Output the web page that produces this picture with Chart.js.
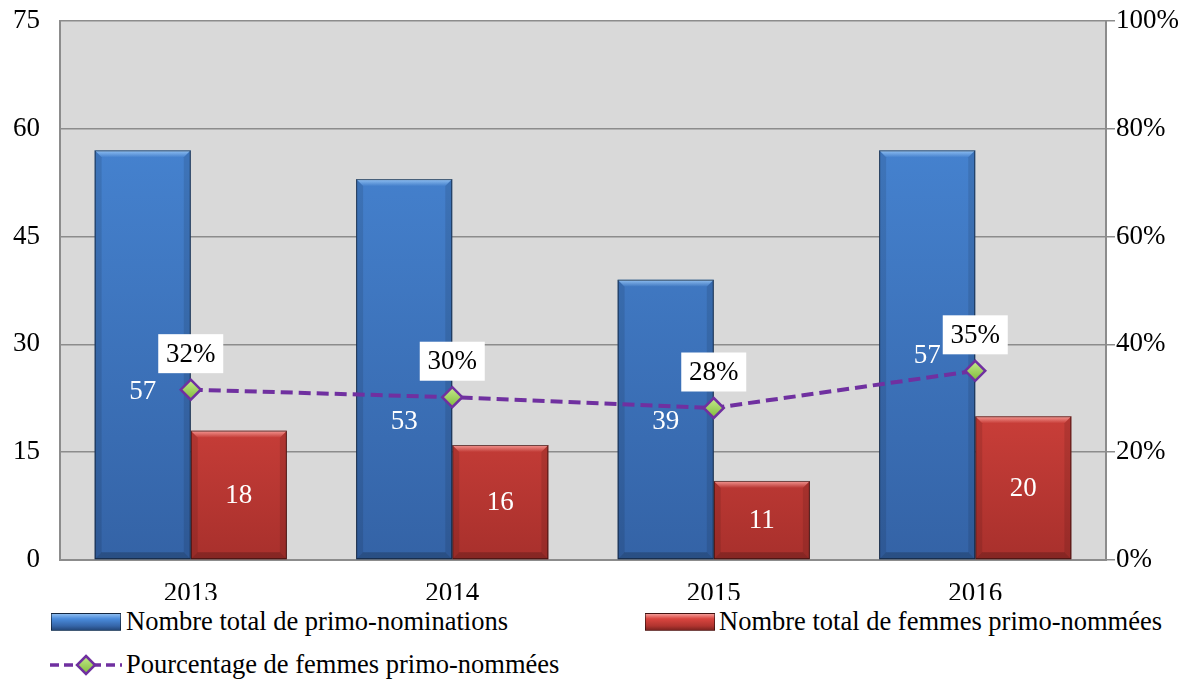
<!DOCTYPE html>
<html>
<head>
<meta charset="utf-8">
<script src="https://cdn.jsdelivr.net/npm/chart.js@4.4.0/dist/chart.umd.min.js"></script>
<style>
  body { margin: 0; background: #fff; font-family: "Liberation Serif", "Times New Roman", serif; }
  #wrap { position: relative; width: 1198px; height: 680px; }
  #box { position: absolute; left: 0; top: 0; width: 1198px; height: 600px; }
  .leg { position: absolute; font-size: 26.5px; line-height: 32px; color: #000; white-space: nowrap; }
  .sw { position: absolute; width: 70px; height: 18px; border: 1px solid rgba(0,0,0,0.5); box-sizing: border-box; }
</style>
</head>
<body>
<div id="wrap">
  <div id="box"><canvas id="myChart"></canvas></div>
  <div class="sw" style="left:51px;top:613px;background:linear-gradient(#8dbcf0 0%,#4a8bdb 30%,#3565a8 75%,#24487a 100%);"></div>
  <div class="leg" style="left:126px;top:605px;">Nombre total de primo-nominations</div>
  <div class="sw" style="left:645px;top:613px;background:linear-gradient(#f39a96 0%,#d9453f 30%,#b0342f 75%,#7e2320 100%);"></div>
  <div class="leg" style="left:719px;top:605px;">Nombre total de femmes primo-nommées</div>
  <canvas id="legLine" width="76" height="24" style="position:absolute;left:48px;top:653px;"></canvas>
  <div class="leg" style="left:126px;top:648px;">Pourcentage de femmes primo-nommées</div>
</div>
<script>
var years = ['2013', '2014', '2015', '2016'];
var totalNominations = [57, 53, 39, 57];
var totalWomen = [18, 16, 11, 20];
var pctWomen = [31.6, 30.2, 28.2, 35.1];
var leftTicks = [0, 15, 30, 45, 60, 75];
var rightTicks = [0, 20, 40, 60, 80, 100];

var serif = '"Liberation Serif", "Times New Roman", serif';
var purple = '#7030a0';

function diamond(ctx, x, y, r) {
    var g = ctx.createLinearGradient(x, y - r, x, y + r);
    g.addColorStop(0, '#c6ec8c');
    g.addColorStop(1, '#7fba3a');
    ctx.save();
    ctx.setLineDash([]);
    ctx.beginPath();
    ctx.moveTo(x, y - r);
    ctx.lineTo(x + r, y);
    ctx.lineTo(x, y + r);
    ctx.lineTo(x - r, y);
    ctx.closePath();
    ctx.fillStyle = g;
    ctx.fill();
    ctx.lineWidth = 2.5;
    ctx.strokeStyle = purple;
    ctx.stroke();
    ctx.restore();
}

// plot background
var plotBg = {
    id: 'plotBg',
    beforeDraw: function(chart) {
        var a = chart.chartArea, c = chart.ctx;
        c.save();
        c.fillStyle = '#d9d9d9';
        c.fillRect(a.left, a.top, a.right - a.left, a.bottom - a.top);
        c.restore();
    }
};

// bevel look on bars
var bevel = {
    id: 'bevel',
    afterDatasetDraw: function(chart, args) {
        if (args.index > 1) return;
        var c = chart.ctx;
        var light = args.index === 0 ? ['rgba(160,205,250,0.85)', 'rgba(160,205,250,0)'] : ['rgba(255,170,165,0.85)', 'rgba(255,170,165,0)'];
        args.meta.data.forEach(function(bar) {
            var p = bar.getProps(['x', 'y', 'base', 'width'], true);
            var l = p.x - p.width / 2, r = p.x + p.width / 2, t = p.y, b = p.base, e = 7;
            c.save();
            var tg = c.createLinearGradient(0, t, 0, t + e);
            tg.addColorStop(0, light[0]);
            tg.addColorStop(1, light[1]);
            c.fillStyle = tg;
            c.beginPath();
            c.moveTo(l, t); c.lineTo(r, t); c.lineTo(r - e, t + e); c.lineTo(l + e, t + e); c.closePath();
            c.fill();
            c.fillStyle = 'rgba(0,0,0,0.1)';
            c.beginPath();
            c.moveTo(l, t); c.lineTo(l + e, t + e); c.lineTo(l + e, b - e); c.lineTo(l, b); c.closePath();
            c.fill();
            c.beginPath();
            c.moveTo(r, t); c.lineTo(r - e, t + e); c.lineTo(r - e, b - e); c.lineTo(r, b); c.closePath();
            c.fill();
            c.fillStyle = 'rgba(0,0,0,0.2)';
            c.beginPath();
            c.moveTo(l, b); c.lineTo(l + e, b - e); c.lineTo(r - e, b - e); c.lineTo(r, b); c.closePath();
            c.fill();
            c.strokeStyle = 'rgba(0,0,0,0.55)';
            c.lineWidth = 1;
            c.strokeRect(l + 0.5, t + 0.5, p.width - 1, b - t - 1);
            c.restore();
        });
    }
};

// value labels
var blueNudge = [36, 52, 1, 0];
var valueLabels = {
    id: 'valueLabels',
    afterDatasetsDraw: function(chart) {
        var c = chart.ctx;
        c.save();
        c.font = '27px ' + serif;
        c.textAlign = 'center';
        c.textBaseline = 'middle';
        [0, 1].forEach(function(di) {
            chart.getDatasetMeta(di).data.forEach(function(bar, i) {
                var p = bar.getProps(['x', 'y', 'base'], true);
                var y = (p.y + p.base) / 2 + (di === 0 ? blueNudge[i] : 0);
                c.fillStyle = '#fff';
                c.fillText(String(chart.data.datasets[di].data[i]), p.x, y + 1);
            });
        });
        chart.getDatasetMeta(2).data.forEach(function(pt, i) {
            var txt = Math.round(chart.data.datasets[2].data[i]) + '%';
            var w = 65, h = 39, cy = pt.y - 36;
            c.fillStyle = '#fff';
            c.fillRect(pt.x - w / 2, cy - h / 2, w, h);
            c.fillStyle = '#000';
            c.fillText(txt, pt.x, cy + 1);
        });
        c.restore();
    }
};

function fixY(width) {
    return function(s) {
        s.width = width;
        s.paddingTop = 0;
        s.paddingBottom = 0;
    };
}

var ctx = document.getElementById('myChart').getContext('2d');

var config = {
    data: {
        labels: years,
        datasets: [{
            type: 'bar',
            label: 'Nombre total de primo-nominations',
            data: totalNominations,
            backgroundColor: function(context) {
                var a = context.chart.chartArea;
                if (!a) return '#3e78c4';
                var g = context.chart.ctx.createLinearGradient(0, a.top, 0, a.bottom);
                g.addColorStop(0, '#4a8bdb');
                g.addColorStop(1, '#3463a6');
                return g;
            },
            yAxisID: 'y',
            order: 2,
            categoryPercentage: 0.735,
            barPercentage: 1
        }, {
            type: 'bar',
            label: 'Nombre total de femmes primo-nommées',
            data: totalWomen,
            backgroundColor: function(context) {
                var a = context.chart.chartArea;
                if (!a) return '#c93c37';
                var g = context.chart.ctx.createLinearGradient(0, a.top + a.height * 0.6, 0, a.bottom);
                g.addColorStop(0, '#d9453f');
                g.addColorStop(1, '#a8302c');
                return g;
            },
            yAxisID: 'y',
            order: 2,
            categoryPercentage: 0.735,
            barPercentage: 1
        }, {
            type: 'line',
            label: 'Pourcentage de femmes primo-nommées',
            data: pctWomen,
            yAxisID: 'y1',
            order: 1,
            borderColor: purple,
            borderWidth: 4,
            borderDash: [12, 6],
            pointRadius: 0,
            fill: false,
            tension: 0
        }]
    },
    options: {
        responsive: true,
        maintainAspectRatio: false,
        animation: false,
        layout: { padding: { top: 21, left: 0, right: 0, bottom: 0 } },
        plugins: {
            legend: { display: false },
            tooltip: { enabled: false }
        },
        scales: {
            x: {
                grid: { display: false },
                border: { display: true, color: '#8c8c8c', width: 2 },
                ticks: { color: '#000', font: { family: serif, size: 27 }, padding: 10 },
                afterFit: function(s) { s.height = 40; s.paddingLeft = 0; s.paddingRight = 0; }
            },
            y: {
                position: 'left',
                min: 0, max: 75,
                afterBuildTicks: function(s) { s.ticks = leftTicks.map(function(v) { return { value: v }; }); },
                grid: { color: '#8c8c8c', lineWidth: 1.5, drawTicks: false },
                border: { display: true, color: '#8c8c8c', width: 2 },
                ticks: { color: '#000', font: { family: serif, size: 27 }, padding: 20 },
                afterFit: fixY(60)
            },
            y1: {
                position: 'right',
                min: 0, max: 100,
                afterBuildTicks: function(s) { s.ticks = rightTicks.map(function(v) { return { value: v }; }); },
                grid: { drawOnChartArea: false, drawTicks: true, tickLength: 9, tickColor: '#8c8c8c', lineWidth: 1.5 },
                border: { display: true, color: '#8c8c8c', width: 2 },
                ticks: { color: '#000', font: { family: serif, size: 27 }, padding: 1,
                    callback: function(v) { return v + '%'; } },
                afterFit: fixY(92)
            }
        }
    },
    plugins: [plotBg, bevel, valueLabels, {
        id: 'markers',
        afterDatasetsDraw: function(chart) {
            chart.getDatasetMeta(2).data.forEach(function(pt) { diamond(chart.ctx, pt.x, pt.y, 10); });
        }
    }]
};

var myChart = new Chart(ctx, config);

// line symbol for legend
var lc = document.getElementById('legLine').getContext('2d');
lc.strokeStyle = purple;
lc.lineWidth = 3.5;
lc.setLineDash([9, 5]);
lc.beginPath();
lc.moveTo(2, 12);
lc.lineTo(74, 12);
lc.stroke();
diamond(lc, 38, 12, 9);
</script>
</body>
</html>
